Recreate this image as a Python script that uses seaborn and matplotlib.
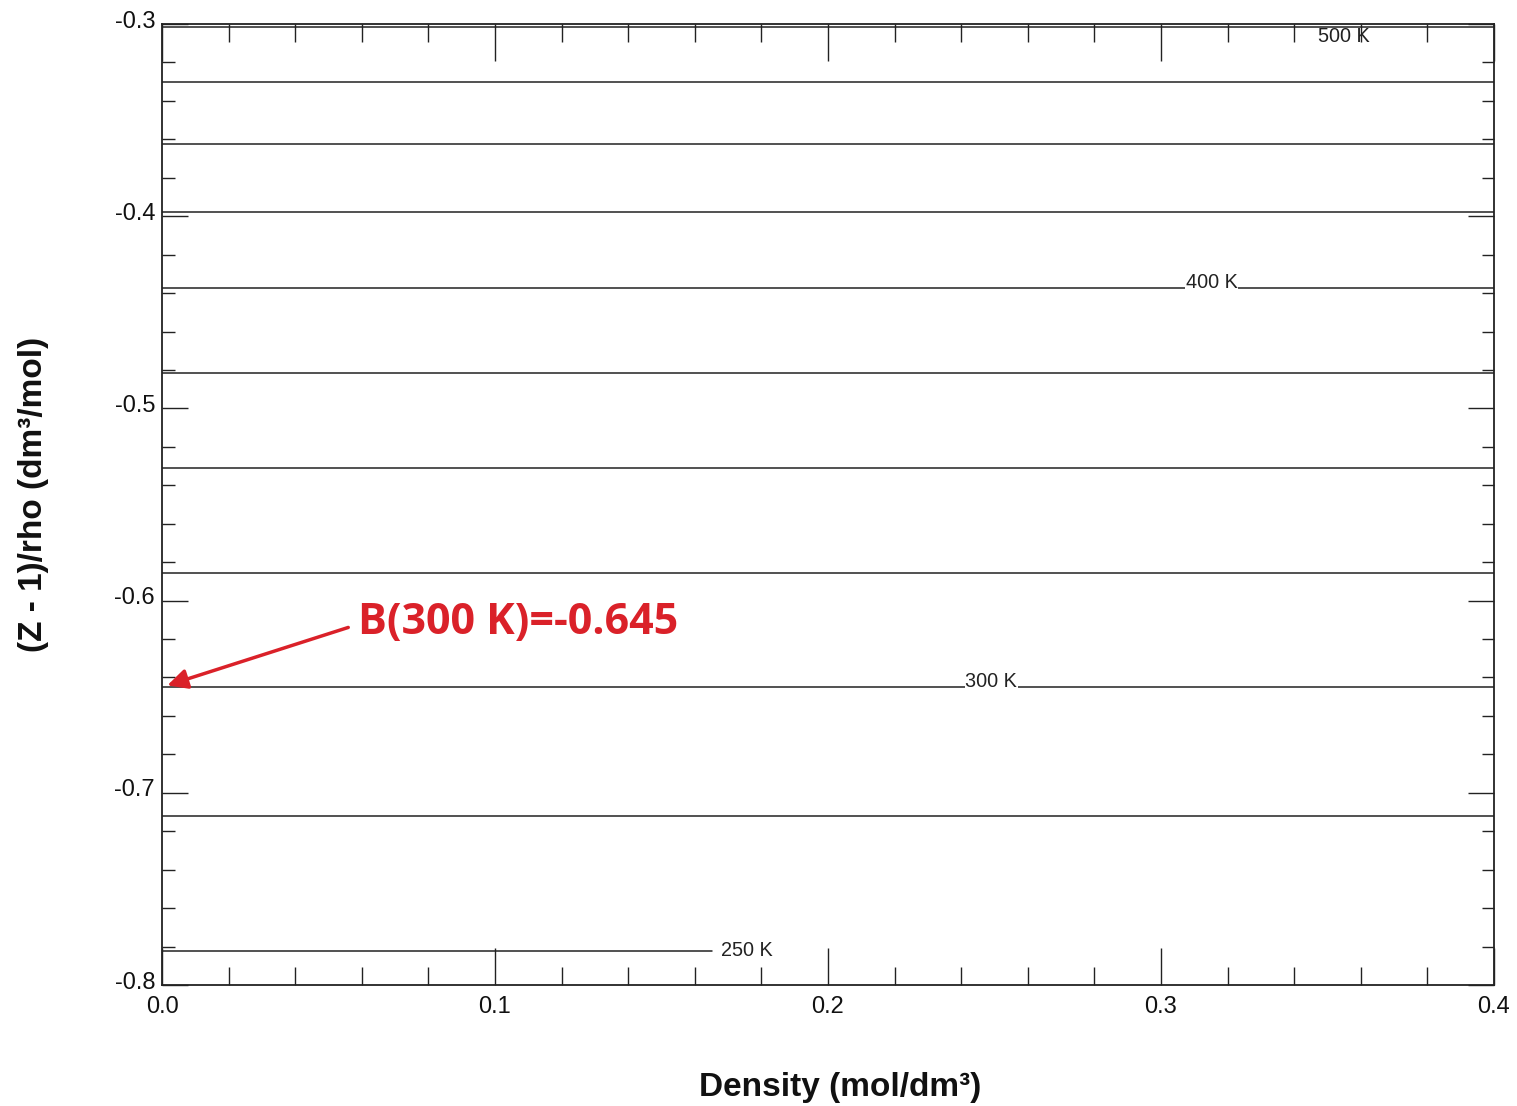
import numpy as np
import pandas as pd
import matplotlib
matplotlib.use("Agg")
import matplotlib.pyplot as plt
from matplotlib.ticker import MultipleLocator, FormatStrFormatter
from matplotlib.transforms import ScaledTranslation
import seaborn as sns

# Isotherms of (Z - 1)/rho versus density
temperatures = [250, 275, 300, 325, 350, 375, 400, 425, 450, 475, 500]
second_virial = [-0.7823, -0.7121, -0.645, -0.5856, -0.5310, -0.4816,
                 -0.4374, -0.3978, -0.3624, -0.3302, -0.3016]
max_density = [0.1652, 0.4, 0.4, 0.4, 0.4, 0.4, 0.4, 0.4, 0.4, 0.4, 0.4]

# Labelled isotherms: temperature, label position along density
label_temps = [250, 300, 400, 500]
label_density = [0.1680, 0.2490, 0.3153, 0.3550]

rows = []
for t, b, rmax in zip(temperatures, second_virial, max_density):
    for rho in (0.0, rmax):
        rows.append({"T": t, "rho": rho, "val": b})
df = pd.DataFrame(rows)

sns.set_theme(style="white")
plt.rcParams["font.family"] = ["Liberation Sans", "DejaVu Sans"]

fig = plt.figure(figsize=(15.17, 11.06), dpi=100)
ax = fig.add_axes([0.1068, 0.1094, 0.8780, 0.8689])

sns.lineplot(data=df, x="rho", y="val", hue="T", units="T", estimator=None,
             palette=["#222222"] * len(temperatures), linewidth=1.1,
             legend=False, ax=ax)

ax.set_xlim(0, 0.4)
ax.set_ylim(-0.8, -0.3)

# Inline temperature labels
lookup = dict(zip(temperatures, second_virial))
label_size = 14.3
for t, xd in zip(label_temps, label_density):
    y = lookup[t]
    if t == 500:
        ax.text(xd, y, f"{t} K", ha="center", va="top", fontsize=label_size,
                color="#222222")
    elif t == 250:
        ax.text(xd, y, f"{t} K", ha="left", va="center", fontsize=label_size,
                color="#222222")
    else:
        ax.text(xd, y, f"{t} K", ha="center", va="baseline",
                fontsize=label_size, color="#222222",
                bbox=dict(facecolor="white", edgecolor="none", pad=0.5))

# Ticks on all four sides, pointing inward
ax.xaxis.set_major_locator(MultipleLocator(0.1))
ax.xaxis.set_minor_locator(MultipleLocator(0.02))
ax.yaxis.set_major_locator(MultipleLocator(0.1))
ax.yaxis.set_minor_locator(MultipleLocator(0.02))
ax.tick_params(axis="x", which="major", direction="in", length=26.5, width=1.0,
               top=True, bottom=True, labelsize=17, pad=8, colors="#222222",
               labelcolor="#111111")
ax.tick_params(axis="x", which="minor", direction="in", length=13, width=1.0,
               top=True, bottom=True, colors="#222222")
ax.tick_params(axis="y", which="major", direction="in", length=18.5, width=1.0,
               left=True, right=True, labelsize=17, pad=5, colors="#222222",
               labelcolor="#111111")
ax.tick_params(axis="y", which="minor", direction="in", length=9, width=1.0,
               left=True, right=True, colors="#222222")
ax.xaxis.set_major_formatter(FormatStrFormatter("%.1f"))
ax.yaxis.set_major_formatter(FormatStrFormatter("%.1f"))

shift = ScaledTranslation(0, 5 / 100, fig.dpi_scale_trans)
for lab in ax.get_yticklabels():
    lab.set_transform(lab.get_transform() + shift)

for sp in ax.spines.values():
    sp.set_visible(True)
    sp.set_color("#222222")
    sp.set_linewidth(1.3)

ax.set_xlabel("Density (mol/dm³)", fontsize=24, fontweight="bold",
              color="#111111")
ax.set_ylabel("(Z - 1)/rho (dm³/mol)", fontsize=24, fontweight="bold",
              color="#111111")
ax.xaxis.set_label_coords(0.509, -0.1065)
ax.xaxis.label.set_verticalalignment("center")
ax.yaxis.set_label_coords(-0.0968, 0.51)
ax.yaxis.label.set_verticalalignment("center")

# Second virial coefficient at 300 K, read at zero density
red = "#DA2129"
ax.annotate("B(300 K)=-0.645", xy=(0.0, lookup[300]), xytext=(0.0589, -0.6112),
            fontsize=31, fontweight="bold", color=red,
            family=["Open Sans", "DejaVu Sans"], ha="left", va="center",
            arrowprops=dict(arrowstyle="-|>,head_length=0.6,head_width=0.3",
                            mutation_scale=20, color=red, lw=2.5,
                            relpos=(0.0, 0.45), shrinkA=5, shrinkB=4))

fig.savefig("out.png", dpi=100)
